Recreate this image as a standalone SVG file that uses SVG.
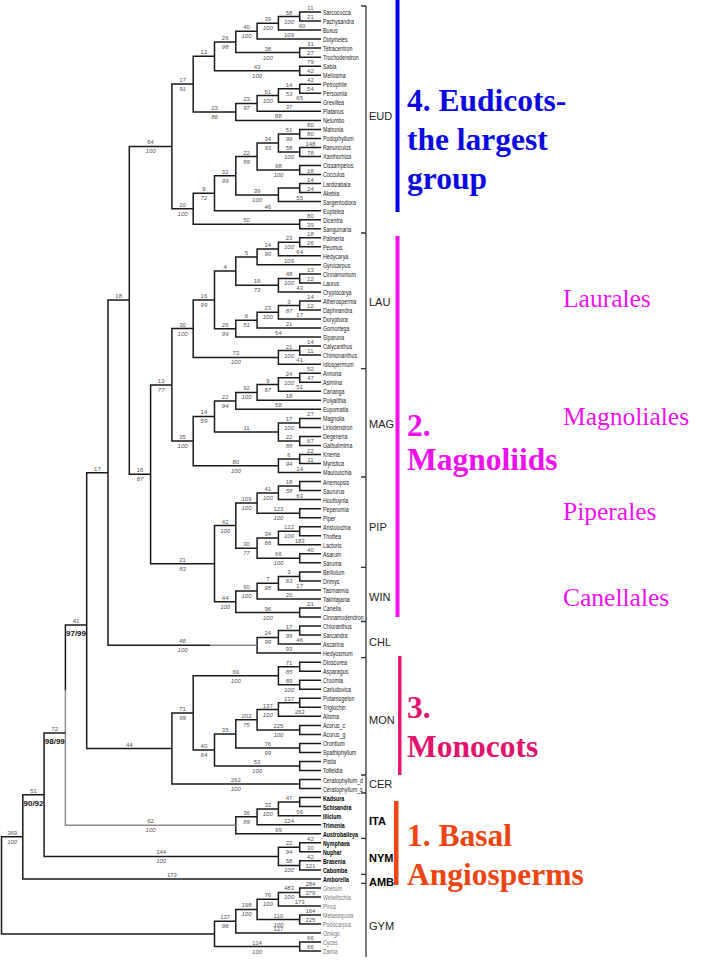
<svg xmlns="http://www.w3.org/2000/svg" width="720" height="960" viewBox="0 0 720 960">
<style>
.br{fill:none;stroke:#1a1a1a;stroke-width:1.5}
.gb{fill:none;stroke:#8a8a8a;stroke-width:1.5}
.tk{fill:none;stroke:#333;stroke-width:1.3}
.tp{font-family:"Liberation Sans",Arial,sans-serif;font-size:7.8px;fill:#222}
.tb{font-family:"Liberation Sans",Arial,sans-serif;font-size:7.8px;fill:#000;font-weight:bold}
.tg{font-family:"Liberation Sans",Arial,sans-serif;font-size:7.8px;fill:#777}
.u{font-family:"Liberation Sans",Arial,sans-serif;font-size:6px;fill:#555;text-anchor:middle}
.l{font-family:"Liberation Sans",Arial,sans-serif;font-size:6px;fill:#555;text-anchor:middle;font-style:italic}
.bs{font-family:"Liberation Sans",Arial,sans-serif;font-size:8px;fill:#111;font-weight:bold;text-anchor:middle}
.cl{font-family:"Liberation Sans",Arial,sans-serif;font-size:11px;fill:#222}
.clb{font-family:"Liberation Sans",Arial,sans-serif;font-size:11px;fill:#000;font-weight:bold}
.big{font-family:"Liberation Serif","Times New Roman",serif;font-size:31.5px;font-weight:bold}
.ord{font-family:"Liberation Serif","Times New Roman",serif;font-size:25.5px;fill:#ee10ee}
</style>
<rect width="720" height="960" fill="#fff"/>

<g id="connectors">
<path class="br" d="M321 12H299.7V21H321 M299.7 16.5H278.4V30.1H321 M278.4 23.3H257.1V39.1H321 M321 48.1H299.7V57.2H321 M257.1 31.2H235.8V52.6H299.7 M321 66.2H299.7V75.2H321 M235.8 41.9H214.5V70.7H299.7 M321 84.2H299.7V93.3H321 M299.7 88.8H278.4V102.3H321 M278.4 95.5H257.1V111.3H321 M257.1 103.4H235.8V120.4H321 M214.5 56.3H193.2V111.9H235.8 M321 129.4H299.7V138.4H321 M321 147.5H299.7V156.5H321 M299.7 133.9H278.4V152H299.7 M321 165.5H299.7V174.5H321 M278.4 143H257.1V170H299.7 M321 183.6H299.7V192.6H321 M299.7 188.1H278.4V201.6H321 M257.1 156.5H235.8V194.9H278.4 M235.8 175.7H214.5V210.7H321 M321 219.7H299.7V228.7H321 M214.5 193.2H193.2V224.2H299.7 M193.2 84.1H171.9V208.7H193.2 M171.9 146.4H129.3V474.3H150.6"/>
<path class="br" d="M321 237.8H299.7V246.8H321 M299.7 242.3H278.4V255.8H321 M278.4 249.1H257.1V264.8H321 M321 273.9H299.7V282.9H321 M299.7 278.4H278.4V291.9H321 M257.1 257H235.8V285.2H278.4 M321 301H299.7V310H321 M299.7 305.5H278.4V319H321 M278.4 312.3H257.1V328.1H321 M257.1 320.2H235.8V337.1H321 M235.8 271.1H214.5V328.7H235.8 M321 346.1H299.7V355.1H321 M299.7 350.6H278.4V364.2H321 M214.5 299.9H193.2V357.4H278.4"/>
<path class="br" d="M321 373.2H299.7V382.2H321 M299.7 377.7H278.4V391.3H321 M278.4 384.5H257.1V400.3H321 M257.1 392.4H235.8V409.3H321 M321 418.4H299.7V427.4H321 M321 436.4H299.7V445.4H321 M299.7 422.9H278.4V440.9H299.7 M235.8 400.9H214.5V431.9H278.4 M321 454.5H299.7V463.5H321 M299.7 459H278.4V472.5H321 M214.5 416.4H193.2V465.8H278.4 M193.2 328.6H171.9V441.1H193.2"/>
<path class="br" d="M321 481.6H299.7V490.6H321 M299.7 486.1H278.4V499.6H321 M321 508.7H299.7V517.7H321 M278.4 492.9H257.1V513.2H299.7 M321 526.7H299.7V535.7H321 M299.7 531.2H278.4V544.8H321 M321 553.8H299.7V562.8H321 M278.4 538H257.1V558.3H299.7 M257.1 503H235.8V548.2H257.1 M321 571.9H299.7V580.9H321 M299.7 576.4H278.4V589.9H321 M278.4 583.2H257.1V599H321 M321 608H299.7V617H321 M257.1 591.1H235.8V612.5H299.7 M235.8 525.5H214.5V601.8H235.8 M171.9 384.9H150.6V563.7H214.5"/>
<path class="br" d="M321 626H299.7V635.1H321 M299.7 630.6H278.4V644.1H321 M278.4 637.4H257.1V653.1H321 M129.3 300H108V645.3H210"/>
<path class="gb" d="M210 645.3H257.1"/>
<path class="br" d="M321 662.2H299.7V671.2H321 M321 680.2H299.7V689.3H321 M299.7 666.7H278.4V684.8H299.7 M321 698.3H299.7V707.3H321 M299.7 702.8H278.4V716.3H321 M321 725.4H299.7V734.4H321 M278.4 709.6H257.1V729.9H299.7 M321 743.4H299.7V752.5H321 M257.1 719.8H235.8V748H299.7 M321 761.5H299.7V770.5H321 M235.8 733.9H214.5V766H299.7 M278.4 675.7H193.2V750H214.5 M321 779.6H299.7V788.6H321 M193.2 712.9H171.9V784.1H299.7 M108 472.7H86.7V748.5H171.9"/>
<path class="br" d="M321 797.6H299.7V806.6H321 M299.7 802.1H278.4V815.7H321 M278.4 808.9H257.1V824.7H321 M257.1 816.8H235.8V833.7H321 M86.7 625H65.4V690"/>
<path class="gb" d="M65.4 690V825.3H235.8"/>
<path class="br" d="M321 842.8H299.7V851.8H321 M321 860.8H299.7V869.9H321 M299.7 847.3H278.4V865.4H299.7 M65.4 733H44.1V856.4H278.4 M44.1 794.7H22.8V878.9H321"/>
<path class="br" d="M321 887.9H299.7V896.9H321 M299.7 892.4H278.4V906H321 M321 915H299.7V924H321 M278.4 899.2H257.1V919.5H299.7 M257.1 909.4H235.8V933.1H321 M321 942.1H299.7V951.1H321 M235.8 921.3H214.5V946.6H299.7 M22.8 836.8H1.5V934H214.5"/>
</g>

<g id="branch-labels">
<text class="u" x="150.6" y="144.4">64</text><text class="l" x="150.6" y="153.4">100</text>
<text class="u" x="182.6" y="82.1">17</text><text class="l" x="182.6" y="91.1">91</text>
<text class="u" x="182.6" y="206.7">20</text><text class="l" x="182.6" y="215.7">100</text>
<text class="u" x="203.9" y="54.3">12</text>
<text class="u" x="214.5" y="109.9">23</text><text class="l" x="214.5" y="118.9">86</text>
<text class="u" x="225.2" y="39.9">26</text><text class="l" x="225.2" y="48.9">98</text>
<text class="u" x="257.1" y="68.7">43</text><text class="l" x="257.1" y="77.7">100</text>
<text class="u" x="246.5" y="29.2">40</text><text class="l" x="246.5" y="38.2">100</text>
<text class="u" x="267.8" y="50.6">38</text><text class="l" x="267.8" y="59.6">100</text>
<text class="u" x="267.8" y="21.3">39</text><text class="l" x="267.8" y="30.3">100</text>
<text class="u" x="289" y="37.1">109</text>
<text class="u" x="289" y="14.5">58</text><text class="l" x="289" y="23.5">100</text>
<text class="u" x="302" y="28.1">60</text>
<text class="u" x="310.4" y="10">11</text><text class="u" x="310.4" y="19">21</text>
<text class="u" x="310.4" y="46.1">31</text><text class="u" x="310.4" y="55.2">27</text>
<text class="u" x="310.4" y="64.2">79</text><text class="u" x="310.4" y="73.2">42</text>
<text class="u" x="310.4" y="82.2">42</text><text class="u" x="310.4" y="91.3">54</text>
<text class="u" x="246.5" y="101.4">23</text><text class="l" x="246.5" y="110.4">97</text>
<text class="u" x="267.8" y="93.5">51</text><text class="l" x="267.8" y="102.5">100</text>
<text class="u" x="289" y="86.8">14</text><text class="l" x="289" y="95.8">53</text>
<text class="u" x="299.7" y="100.3">65</text>
<text class="u" x="289" y="109.3">37</text>
<text class="u" x="278.4" y="118.4">88</text>
<text class="u" x="246.5" y="154.5">22</text><text class="l" x="246.5" y="163.5">89</text>
<text class="u" x="267.8" y="141">34</text><text class="l" x="267.8" y="150">93</text>
<text class="u" x="289" y="131.9">51</text><text class="l" x="289" y="140.9">99</text>
<text class="u" x="289" y="150">58</text><text class="l" x="289" y="159">100</text>
<text class="u" x="310.4" y="127.4">80</text><text class="u" x="310.4" y="136.4">80</text>
<text class="u" x="310.4" y="145.5">148</text><text class="u" x="310.4" y="154.5">78</text>
<text class="u" x="278.4" y="168">98</text><text class="l" x="278.4" y="177">100</text>
<text class="u" x="310.4" y="172.5">18</text>
<text class="u" x="225.2" y="173.7">32</text><text class="l" x="225.2" y="182.7">99</text>
<text class="u" x="203.9" y="191.2">9</text><text class="l" x="203.9" y="200.2">72</text>
<text class="u" x="257.1" y="192.9">39</text><text class="l" x="257.1" y="201.9">100</text>
<text class="u" x="310.4" y="181.6">14</text><text class="u" x="310.4" y="190.6">24</text>
<text class="u" x="299.7" y="199.6">55</text>
<text class="u" x="267.8" y="208.7">46</text>
<text class="u" x="246.5" y="222.2">50</text>
<text class="u" x="310.4" y="217.7">80</text><text class="u" x="310.4" y="226.7">39</text>

<text class="u" x="118.7" y="298">18</text>
<text class="u" x="182.6" y="326.6">30</text><text class="l" x="182.6" y="335.6">100</text>
<text class="u" x="203.9" y="297.9">16</text><text class="l" x="203.9" y="306.9">99</text>
<text class="u" x="225.2" y="269.1">4</text>
<text class="u" x="246.5" y="255">5</text>
<text class="u" x="267.8" y="247.1">14</text><text class="l" x="267.8" y="256.1">90</text>
<text class="u" x="289" y="240.3">23</text><text class="l" x="289" y="249.3">100</text>
<text class="u" x="310.4" y="235.8">18</text><text class="u" x="310.4" y="244.8">26</text>
<text class="u" x="299.7" y="253.8">64</text>
<text class="u" x="289" y="262.8">109</text>
<text class="u" x="257.1" y="283.2">19</text><text class="l" x="257.1" y="292.2">73</text>
<text class="u" x="289" y="276.4">48</text><text class="l" x="289" y="285.4">100</text>
<text class="u" x="310.4" y="271.9">13</text><text class="u" x="310.4" y="280.9">12</text>
<text class="u" x="299.7" y="289.9">43</text>
<text class="u" x="225.2" y="326.7">26</text><text class="l" x="225.2" y="335.7">99</text>
<text class="u" x="246.5" y="318.2">6</text><text class="l" x="246.5" y="327.2">51</text>
<text class="u" x="267.8" y="310.3">23</text><text class="l" x="267.8" y="319.3">100</text>
<text class="u" x="289" y="303.5">3</text><text class="l" x="289" y="312.5">87</text>
<text class="u" x="310.4" y="299">14</text><text class="u" x="310.4" y="308">12</text>
<text class="u" x="299.7" y="317">17</text>
<text class="u" x="289" y="326.1">21</text>
<text class="u" x="278.4" y="335.1">54</text>
<text class="u" x="235.8" y="355.4">73</text><text class="l" x="235.8" y="364.4">100</text>
<text class="u" x="289" y="348.6">21</text><text class="l" x="289" y="357.6">100</text>
<text class="u" x="310.4" y="344.1">14</text><text class="u" x="310.4" y="353.1">11</text>
<text class="u" x="299.7" y="362.2">41</text>

<text class="u" x="161.2" y="382.9">13</text><text class="l" x="161.2" y="391.9">77</text>
<text class="u" x="182.6" y="439.1">35</text><text class="l" x="182.6" y="448.1">100</text>
<text class="u" x="203.9" y="414.4">14</text><text class="l" x="203.9" y="423.4">59</text>
<text class="u" x="225.2" y="398.9">22</text><text class="l" x="225.2" y="407.9">94</text>
<text class="u" x="246.5" y="390.4">92</text><text class="l" x="246.5" y="399.4">100</text>
<text class="u" x="267.8" y="382.5">9</text><text class="l" x="267.8" y="391.5">67</text>
<text class="u" x="289" y="375.7">24</text><text class="l" x="289" y="384.7">100</text>
<text class="u" x="310.4" y="371.2">52</text><text class="u" x="310.4" y="380.2">47</text>
<text class="u" x="299.7" y="389.3">51</text>
<text class="u" x="289" y="398.3">18</text>
<text class="u" x="278.4" y="407.3">58</text>
<text class="u" x="246.5" y="429.9">11</text>
<text class="u" x="289" y="420.9">17</text><text class="l" x="289" y="429.9">100</text>
<text class="u" x="289" y="438.9">22</text><text class="l" x="289" y="447.9">88</text>
<text class="u" x="310.4" y="416.4">27</text><text class="u" x="310.4" y="443.4">67</text>
<text class="u" x="235.8" y="463.8">80</text><text class="l" x="235.8" y="472.8">100</text>
<text class="u" x="289" y="457">6</text><text class="l" x="289" y="466">94</text>
<text class="u" x="310.4" y="452.5">22</text><text class="u" x="310.4" y="461.5">11</text>
<text class="u" x="299.7" y="470.5">14</text>

<text class="u" x="140" y="472.3">16</text><text class="l" x="140" y="481.3">67</text>
<text class="u" x="182.6" y="561.7">21</text><text class="l" x="182.6" y="570.7">83</text>
<text class="u" x="225.2" y="523.5">42</text><text class="l" x="225.2" y="532.5">100</text>
<text class="u" x="246.5" y="501">109</text><text class="l" x="246.5" y="510">100</text>
<text class="u" x="267.8" y="490.9">41</text><text class="l" x="267.8" y="499.9">100</text>
<text class="u" x="289" y="484.1">18</text><text class="l" x="289" y="493.1">58</text>
<text class="u" x="299.7" y="497.6">63</text>
<text class="u" x="278.4" y="511.2">123</text><text class="l" x="278.4" y="520.2">100</text>
<text class="u" x="246.5" y="546.2">30</text><text class="l" x="246.5" y="555.2">77</text>
<text class="u" x="267.8" y="536">34</text><text class="l" x="267.8" y="545">66</text>
<text class="u" x="289" y="529.2">122</text><text class="l" x="289" y="538.2">100</text>
<text class="u" x="299.7" y="542.8">183</text>
<text class="u" x="278.4" y="556.3">66</text><text class="l" x="278.4" y="565.3">100</text>
<text class="u" x="310.4" y="551.8">40</text>
<text class="u" x="225.2" y="599.8">44</text><text class="l" x="225.2" y="608.8">100</text>
<text class="u" x="246.5" y="589.1">60</text><text class="l" x="246.5" y="598.1">100</text>
<text class="u" x="267.8" y="581.2">7</text><text class="l" x="267.8" y="590.2">95</text>
<text class="u" x="289" y="574.4">3</text><text class="l" x="289" y="583.4">63</text>
<text class="u" x="299.7" y="587.9">17</text>
<text class="u" x="289" y="597">20</text>
<text class="u" x="267.8" y="610.5">96</text><text class="l" x="267.8" y="619.5">100</text>
<text class="u" x="310.4" y="606">21</text>
<text class="u" x="182.6" y="643.3">48</text><text class="l" x="182.6" y="652.3">100</text>
<text class="u" x="267.8" y="635.4">24</text><text class="l" x="267.8" y="644.4">99</text>
<text class="u" x="289" y="628.6">17</text><text class="l" x="289" y="637.6">99</text>
<text class="u" x="299.7" y="642">46</text>
<text class="u" x="289" y="651.1">93</text>

<text class="u" x="97.4" y="470.7">17</text>
<text class="u" x="76" y="623">41</text><text class="bs" x="76" y="636">97/99</text>
<text class="u" x="54.8" y="731">72</text><text class="bs" x="54.8" y="744">98/99</text>
<text class="u" x="33.5" y="792.7">51</text><text class="bs" x="33.5" y="805.7">90/92</text>
<text class="u" x="12.2" y="834.8">369</text><text class="l" x="12.2" y="843.8">100</text>

<text class="u" x="129.3" y="746.5">44</text>
<text class="u" x="182.6" y="710.9">71</text><text class="l" x="182.6" y="719.9">99</text>
<text class="u" x="235.8" y="673.7">69</text><text class="l" x="235.8" y="682.7">100</text>
<text class="u" x="289" y="664.7">71</text><text class="l" x="289" y="673.7">85</text>
<text class="u" x="289" y="682.8">89</text><text class="l" x="289" y="691.8">100</text>
<text class="u" x="203.9" y="748">40</text><text class="l" x="203.9" y="757">64</text>
<text class="u" x="225.2" y="731.9">35</text>
<text class="u" x="246.5" y="717.8">202</text><text class="l" x="246.5" y="726.8">75</text>
<text class="u" x="267.8" y="707.6">137</text><text class="l" x="267.8" y="716.6">100</text>
<text class="u" x="289" y="700.8">137</text>
<text class="u" x="299.7" y="714.3">263</text>
<text class="u" x="278.4" y="727.9">225</text><text class="l" x="278.4" y="736.9">100</text>
<text class="u" x="267.8" y="746">76</text><text class="l" x="267.8" y="755">99</text>
<text class="u" x="257.1" y="764">53</text><text class="l" x="257.1" y="773">100</text>
<text class="u" x="235.8" y="782.1">262</text><text class="l" x="235.8" y="791.1">100</text>

<text class="u" x="150.6" y="823.3">62</text><text class="l" x="150.6" y="832.3">100</text>
<text class="u" x="246.5" y="814.8">36</text><text class="l" x="246.5" y="823.8">89</text>
<text class="u" x="267.8" y="806.9">33</text><text class="l" x="267.8" y="815.9">100</text>
<text class="u" x="289" y="800.1">47</text>
<text class="u" x="299.7" y="813.7">56</text>
<text class="u" x="289" y="822.7">124</text>
<text class="u" x="278.4" y="831.7">99</text>
<text class="u" x="161.2" y="854.4">144</text><text class="l" x="161.2" y="863.4">100</text>
<text class="u" x="289" y="845.3">22</text><text class="l" x="289" y="854.3">94</text>
<text class="u" x="289" y="863.4">58</text><text class="l" x="289" y="872.4">100</text>
<text class="u" x="310.4" y="840.8">42</text><text class="u" x="310.4" y="849.8">30</text>
<text class="u" x="310.4" y="858.8">42</text><text class="u" x="310.4" y="867.9">121</text>
<text class="u" x="171.9" y="876.9">173</text>

<text class="u" x="225.2" y="919.3">137</text><text class="l" x="225.2" y="928.3">96</text>
<text class="u" x="246.5" y="907.4">198</text><text class="l" x="246.5" y="916.4">100</text>
<text class="u" x="267.8" y="897.2">76</text><text class="l" x="267.8" y="906.2">100</text>
<text class="u" x="289" y="890.4">483</text><text class="l" x="289" y="899.4">100</text>
<text class="u" x="310.4" y="885.9">284</text><text class="u" x="310.4" y="894.9">379</text>
<text class="u" x="299.7" y="904">173</text>
<text class="u" x="278.4" y="917.5">110</text><text class="l" x="278.4" y="926.5">100</text>
<text class="u" x="310.4" y="913">164</text><text class="u" x="310.4" y="922">225</text>
<text class="u" x="278.4" y="931.1">127</text>
<text class="u" x="257.1" y="944.6">114</text><text class="l" x="257.1" y="953.6">100</text>
<text class="u" x="310.4" y="940.1">66</text><text class="u" x="310.4" y="949.1">66</text>
</g>

<g transform="translate(323 0) scale(0.68 1)">
<g id="tips-EUD" class="tp">
<text x="0" y="15">Sarcococca</text><text x="0" y="24">Pachysandra</text><text x="0" y="33.1">Buxus</text><text x="0" y="42.1">Didymeles</text><text x="0" y="51.1">Tetracentron</text><text x="0" y="60.2">Trochodendron</text><text x="0" y="69.2">Sabia</text><text x="0" y="78.2">Meliosma</text><text x="0" y="87.2">Petrophile</text><text x="0" y="96.3">Persoonia</text><text x="0" y="105.3">Grevillea</text><text x="0" y="114.3">Platanus</text><text x="0" y="123.4">Nelumbo</text><text x="0" y="132.4">Mahonia</text><text x="0" y="141.4">Podophyllum</text><text x="0" y="150.5">Ranunculus</text><text x="0" y="159.5">Xanthorhiza</text><text x="0" y="168.5">Cissampelos</text><text x="0" y="177.5">Cocculus</text><text x="0" y="186.6">Lardizabala</text><text x="0" y="195.6">Akebia</text><text x="0" y="204.6">Sargentodoxa</text><text x="0" y="213.7">Euptelea</text><text x="0" y="222.7">Dicentra</text><text x="0" y="231.7">Sanguinaria</text>
</g>
<g id="tips-LAU" class="tp">
<text x="0" y="240.8">Palmeria</text><text x="0" y="249.8">Peumus</text><text x="0" y="258.8">Hedycarya</text><text x="0" y="267.8">Gyrocarpus</text><text x="0" y="276.9">Cinnamomum</text><text x="0" y="285.9">Laurus</text><text x="0" y="294.9">Cryptocarya</text><text x="0" y="304">Atherosperma</text><text x="0" y="313">Daphnandra</text><text x="0" y="322">Doryphora</text><text x="0" y="331.1">Gomortega</text><text x="0" y="340.1">Siparuna</text><text x="0" y="349.1">Calycanthus</text><text x="0" y="358.1">Chimonanthus</text><text x="0" y="367.2">Idiospermum</text>
</g>
<g id="tips-MAG" class="tp">
<text x="0" y="376.2">Annona</text><text x="0" y="385.2">Asimina</text><text x="0" y="394.3">Cananga</text><text x="0" y="403.3">Polyalthia</text><text x="0" y="412.3">Eupomatia</text><text x="0" y="421.4">Magnolia</text><text x="0" y="430.4">Liriodendron</text><text x="0" y="439.4">Degeneria</text><text x="0" y="448.4">Galbulimima</text><text x="0" y="457.5">Knema</text><text x="0" y="466.5">Myristica</text><text x="0" y="475.5">Mauloutchia</text>
</g>
<g id="tips-PIP" class="tp">
<text x="0" y="484.6">Anemopsis</text><text x="0" y="493.6">Saururus</text><text x="0" y="502.6">Houttuynia</text><text x="0" y="511.7">Peperomia</text><text x="0" y="520.7">Piper</text><text x="0" y="529.7">Aristolochia</text><text x="0" y="538.7">Thottea</text><text x="0" y="547.8">Lactoris</text><text x="0" y="556.8">Asarum</text><text x="0" y="565.8">Saruma</text>
</g>
<g id="tips-WIN" class="tp">
<text x="0" y="574.9">Belliolum</text><text x="0" y="583.9">Drimys</text><text x="0" y="592.9">Tasmannia</text><text x="0" y="602">Takhtajania</text><text x="0" y="611">Canella</text><text x="0" y="620">Cinnamodendron</text>
</g>
<g id="tips-CHL" class="tp">
<text x="0" y="629">Chloranthus</text><text x="0" y="638.1">Sarcandra</text><text x="0" y="647.1">Ascarina</text><text x="0" y="656.1">Hedyosmum</text>
</g>
<g id="tips-MON" class="tp">
<text x="0" y="665.2">Dioscorea</text><text x="0" y="674.2">Asparagus</text><text x="0" y="683.2">Croomia</text><text x="0" y="692.3">Carludovica</text><text x="0" y="701.3">Potamogeton</text><text x="0" y="710.3">Triglochin</text><text x="0" y="719.3">Alisma</text><text x="0" y="728.4">Acorus_c</text><text x="0" y="737.4">Acorus_g</text><text x="0" y="746.4">Orontium</text><text x="0" y="755.5">Spathiphyllum</text><text x="0" y="764.5">Pistia</text><text x="0" y="773.5">Tofieldia</text>
</g>
<g id="tips-CER" class="tp">
<text x="0" y="782.6">Ceratophyllum_d</text><text x="0" y="791.6">Ceratophyllum_s</text>
</g>
<g id="tips-ITA" class="tb">
<text x="0" y="800.6">Kadsura</text><text x="0" y="809.6">Schisandra</text><text x="0" y="818.7">Illicium</text><text x="0" y="827.7">Trimenia</text><text x="0" y="836.7">Austrobaileya</text>
</g>
<g id="tips-NYM" class="tb">
<text x="0" y="845.8">Nymphaea</text><text x="0" y="854.8">Nuphar</text><text x="0" y="863.8">Brasenia</text><text x="0" y="872.9">Cabomba</text>
</g>
<g id="tips-AMB" class="tb">
<text x="0" y="881.9">Amborella</text>
</g>
<g id="tips-GYM" class="tg">
<text x="0" y="890.9">Gnetum</text><text x="0" y="899.9">Welwitschia</text><text x="0" y="909">Pinus</text><text x="0" y="918">Metasequoia</text><text x="0" y="927">Podocarpus</text><text x="0" y="936.1">Ginkgo</text><text x="0" y="945.1">Cycas</text><text x="0" y="954.1">Zamia</text>
</g>
</g>

<g id="bracket">
<path class="tk" d="M366 6V957 M361 6H366 M361 233H366 M361 368.7H366 M361 477H366 M361 567.3H366 M361 621.5H366 M361 657.6H366 M361 775H366 M361 793H366 M361 838.3H366 M361 874.4H366 M361 883.4H366"/>
<text class="cl" x="369" y="120">EUD</text>
<text class="cl" x="369" y="306">LAU</text>
<text class="cl" x="369" y="428">MAG</text>
<text class="cl" x="369" y="531">PIP</text>
<text class="cl" x="369" y="601">WIN</text>
<text class="cl" x="369" y="646">CHL</text>
<text class="cl" x="369" y="724">MON</text>
<text class="cl" x="369" y="788">CER</text>
<text class="clb" x="369" y="825">ITA</text>
<text class="clb" x="369" y="862">NYM</text>
<text class="clb" x="369" y="886">AMB</text>
<text class="cl" x="369" y="930">GYM</text>
</g>

<g id="eudicots">
<rect x="395.5" y="0" width="4" height="212" fill="#0000f0"/>
<text class="big" fill="#0a0ae0" x="407" y="111">4.  Eudicots-</text>
<text class="big" fill="#0a0ae0" x="407" y="150">the largest</text>
<text class="big" fill="#0a0ae0" x="407" y="189">group</text>
</g>
<g id="magnoliids">
<rect x="395.5" y="236" width="4" height="381" fill="#f010f0"/>
<text class="big" fill="#ee10ee" x="407" y="436">2.</text>
<text class="big" fill="#ee10ee" x="407" y="470">Magnoliids</text>
<text class="ord" x="563" y="307">Laurales</text>
<text class="ord" x="563" y="425">Magnoliales</text>
<text class="ord" x="563" y="520">Piperales</text>
<text class="ord" x="563" y="606">Canellales</text>
</g>
<g id="monocots">
<rect x="398" y="656" width="3.5" height="119" fill="#e0186e"/>
<text class="big" fill="#e0146e" x="407" y="718">3.</text>
<text class="big" fill="#e0146e" x="407" y="757">Monocots</text>
</g>
<g id="basal">
<rect x="394" y="801" width="4.5" height="84" fill="#f04812"/>
<text class="big" fill="#ee4411" x="407" y="846">1.  Basal</text>
<text class="big" fill="#ee4411" x="407" y="885">Angiosperms</text>
</g>
</svg>
